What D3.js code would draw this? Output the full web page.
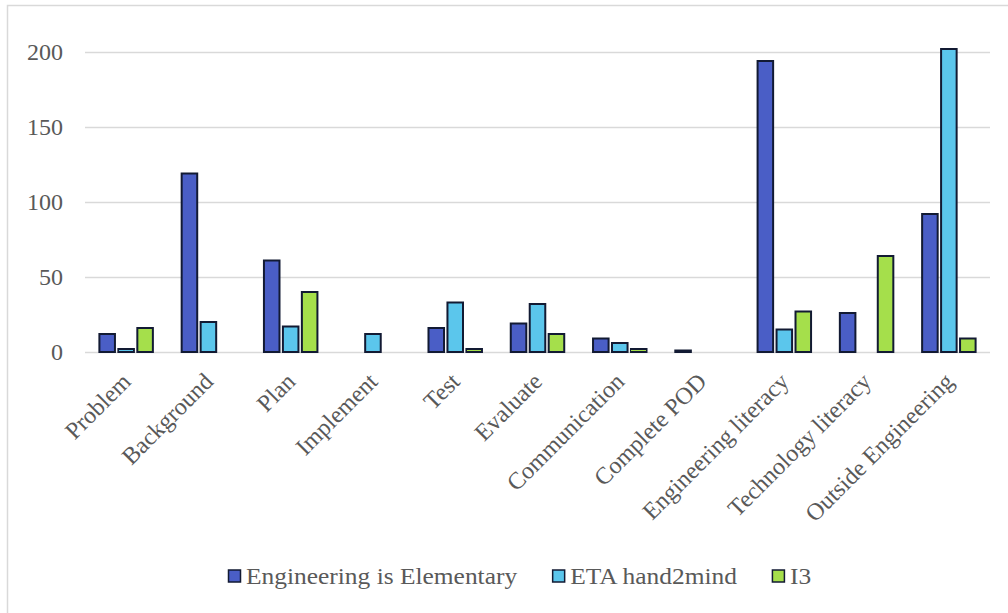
<!DOCTYPE html>
<html>
<head>
<meta charset="utf-8">
<script src="https://cdn.jsdelivr.net/npm/d3@7"></script>
<style>
  html, body { margin: 0; padding: 0; background: #ffffff; }
  svg { display: block; }
</style>
</head>
<body>
<svg id="chart" width="1008" height="613"></svg>
<script>
// Categories of coded lesson content
const categories = [
  "Problem", "Background", "Plan", "Implement", "Test", "Evaluate",
  "Communication", "Complete POD", "Engineering literacy",
  "Technology literacy", "Outside Engineering"
];

// Curriculum series
const seriesNames = ["Engineering is Elementary", "ETA hand2mind", "I3"];

// Counts per category, one array per curriculum
const eieValues = [12, 119, 61, 0, 16, 19, 9, 1, 194, 26, 92];
const etaValues = [2, 20, 17, 12, 33, 32, 6, 0, 15, 0, 202];
const i3Values  = [16, 0, 40, 0, 2, 12, 2, 0, 27, 64, 9];

const yTicks = [0, 50, 100, 150, 200];
const seriesColors = ["#4a5ec6", "#5bc6ec", "#a5df4b"];

const FONT = '"Liberation Serif", "Times New Roman", serif';
const TEXT_COLOR = "#595959";

const seriesValues = [eieValues, etaValues, i3Values];
const rows = categories.map((c, i) => ({
  category: c,
  values: seriesNames.map((s, k) => ({ series: s, value: seriesValues[k][i] }))
}));

const svg = d3.select("#chart");
const W = 1008, H = 613;
const margin = { left: 85, right: 18, top: 52, bottom: 261 };
const plotBottom = H - margin.bottom;

// Chart-area frame
svg.append("rect")
  .attr("x", 7.5).attr("y", 5.5)
  .attr("width", W + 10).attr("height", H + 10)
  .attr("fill", "#ffffff")
  .attr("stroke", "#d9d9d9").attr("stroke-width", 1.5);

const x = d3.scaleBand()
  .domain(categories)
  .range([margin.left, W - margin.right])
  .paddingInner(0.35)
  .paddingOuter(0.175);

const xInner = d3.scaleBand()
  .domain(seriesNames)
  .range([0, x.bandwidth()])
  .paddingInner(0.18);

const y = d3.scaleLinear()
  .domain([0, 200])
  .range([plotBottom, margin.top]);

// Horizontal gridlines and value labels
const yAxis = d3.axisLeft(y)
  .tickValues(yTicks)
  .tickSize(-(W - margin.right - margin.left))
  .tickPadding(22);

const gy = svg.append("g")
  .attr("transform", `translate(${margin.left},0)`)
  .call(yAxis);
gy.select(".domain").remove();
gy.selectAll(".tick line").attr("stroke", "#d9d9d9").attr("stroke-width", 1.5);
gy.selectAll(".tick text")
  .style("font-family", FONT)
  .style("font-size", "24px")
  .style("fill", TEXT_COLOR);

// Bars
const groups = svg.append("g")
  .selectAll("g")
  .data(rows)
  .join("g")
  .attr("transform", d => `translate(${x(d.category)},0)`);

groups.selectAll("rect")
  .data(d => d.values.filter(v => v.value > 0))
  .join("rect")
  .attr("x", d => xInner(d.series))
  .attr("y", d => y(d.value))
  .attr("width", xInner.bandwidth())
  .attr("height", d => plotBottom - y(d.value))
  .attr("fill", d => seriesColors[seriesNames.indexOf(d.series)])
  .attr("stroke", "#121a33")
  .attr("stroke-width", 2);

// Rotated category labels
const gx = svg.append("g")
  .attr("transform", `translate(0,${plotBottom})`)
  .call(d3.axisBottom(x).tickSize(0).tickPadding(0));
gx.select(".domain").remove();
gx.selectAll(".tick text")
  .style("font-family", FONT)
  .style("font-size", "24px")
  .style("fill", TEXT_COLOR)
  .attr("text-anchor", "end")
  .attr("dy", null)
  .attr("y", 0)
  .attr("transform", "translate(6,31) rotate(-45)");

// Legend (text slightly widened)
const textScale = 1.06;
const legend = svg.append("g").attr("transform", `translate(0,${576})`);
let cursor = 228;
seriesNames.forEach((name, k) => {
  const item = legend.append("g").attr("transform", `translate(${cursor},0)`);
  item.append("rect")
    .attr("x", 0.5).attr("y", -6)
    .attr("width", 12).attr("height", 12)
    .attr("fill", seriesColors[k])
    .attr("stroke", "#121a33").attr("stroke-width", 1.5);
  const t = item.append("text")
    .attr("transform", `translate(18,0) scale(${textScale},1)`)
    .attr("dy", "0.35em")
    .style("font-family", FONT)
    .style("font-size", "24px")
    .style("fill", TEXT_COLOR)
    .text(name);
  cursor += 18 + t.node().getComputedTextLength() * textScale + 35;
});
</script>
</body>
</html>
